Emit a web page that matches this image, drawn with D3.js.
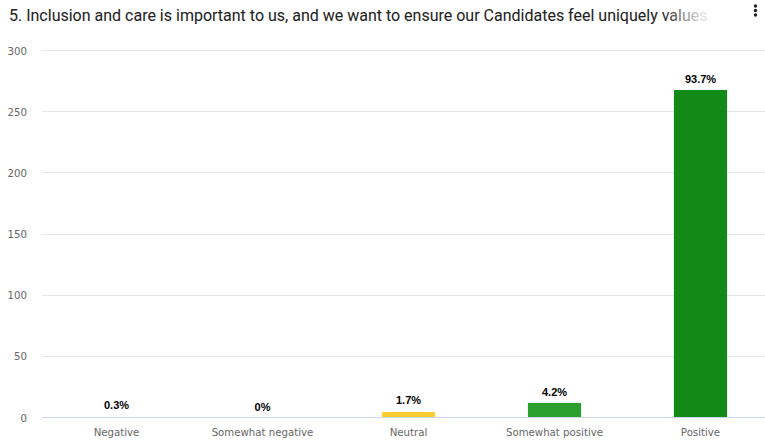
<!DOCTYPE html>
<html>
<head>
  <meta charset="UTF-8" />
  <title>Inclusion and care</title>
  <style>
    html, body { margin: 0; padding: 0; background: #fff; overflow: hidden; }
    svg { display: block; }
  </style>
</head>
<body>
  <svg id="chart" width="765" height="447"></svg>

<script src="https://cdn.jsdelivr.net/npm/d3@7"></script>
<script>
  // Data
  const categories = ["Negative", "Somewhat negative", "Neutral", "Somewhat positive", "Positive"];
  const counts = [1, 0, 5, 12, 268];
  const colors = ["#e53935", "#fb8c00", "#fdcd34", "#2ca02f", "#138a17"];
  const yTicks = [0, 50, 100, 150, 200, 250, 300];
  const title = "5. Inclusion and care is important to us, and we want to ensure our Candidates feel uniquely values";

  const total = d3.sum(counts);
  const svg = d3.select("#chart");
  const W = 765;

  const x = d3.scaleBand().domain(categories).range([43.5, 773.5]).paddingInner(0.636).paddingOuter(0.318);
  const y = d3.scaleLinear().domain([0, 300]).range([418, 51]);

  // title with faded tail
  const defs = svg.append("defs");
  const fade = defs.append("linearGradient").attr("id", "fade")
    .attr("gradientUnits", "userSpaceOnUse").attr("x1", 662).attr("x2", 702).attr("y1", 0).attr("y2", 0);
  fade.append("stop").attr("offset", 0).attr("stop-color", "#212121");
  fade.append("stop").attr("offset", 1).attr("stop-color", "#e0e0e0");

  svg.append("text")
    .attr("x", 9).attr("y", 20.5)
    .attr("font-family", "Roboto").attr("font-size", "16px")
    .attr("fill", "url(#fade)")
    .text(title);

  // kebab menu
  svg.append("g").selectAll("circle").data([6, 10.5, 15]).join("circle")
    .attr("cx", 755.5).attr("cy", d => d).attr("r", 1.7).attr("fill", "#212121");

  // gridlines
  svg.append("g").selectAll("line").data(yTicks.filter(d => d > 0)).join("line")
    .attr("x1", 42).attr("x2", W)
    .attr("y1", d => Math.round(y(d)) - 0.5).attr("y2", d => Math.round(y(d)) - 0.5)
    .attr("stroke", "#e6e6e6").attr("stroke-width", 1);

  // y tick labels
  svg.append("g").selectAll("text").data(yTicks).join("text")
    .attr("x", 27).attr("y", d => y(d) + 3.5)
    .attr("text-anchor", "end")
    .attr("font-family", "DejaVu Sans").attr("font-size", "10.2px")
    .attr("fill", "#666666")
    .text(d => d);

  // bars (crisp, bottom pixel sits under the axis line)
  svg.append("g").selectAll("rect").data(categories).join("rect")
    .attr("x", d => x(d))
    .attr("width", x.bandwidth())
    .attr("y", (d, i) => Math.round(y(counts[i])))
    .attr("height", (d, i) => y(0) - Math.round(y(counts[i])))
    .attr("fill", (d, i) => colors[i]);

  // x axis line
  svg.append("line")
    .attr("x1", 42).attr("x2", W)
    .attr("y1", y(0) - 0.5).attr("y2", y(0) - 0.5)
    .attr("stroke", "#ccd6eb").attr("stroke-width", 1);

  // x labels
  svg.append("g").selectAll("text").data(categories).join("text")
    .attr("x", d => x(d) + x.bandwidth() / 2)
    .attr("y", 436)
    .attr("text-anchor", "middle")
    .attr("font-family", "DejaVu Sans").attr("font-size", "10.2px")
    .attr("fill", "#666666")
    .text(d => d);

  // percentage labels
  const pct = v => {
    const p = Math.round(v / total * 1000) / 10;
    return (p % 1 === 0 ? p.toFixed(0) : p.toFixed(1)) + "%";
  };
  svg.append("g").selectAll("text").data(categories).join("text")
    .attr("x", d => x(d) + x.bandwidth() / 2)
    .attr("y", (d, i) => y(counts[i]) - 7.5)
    .attr("text-anchor", "middle")
    .attr("font-family", "Liberation Sans").attr("font-weight", "bold").attr("font-size", "11px")
    .attr("fill", "#000")
    .attr("stroke", "#fff").attr("stroke-width", 2).attr("paint-order", "stroke")
    .attr("stroke-linejoin", "round")
    .text((d, i) => pct(counts[i]));
</script>
</body>
</html>
